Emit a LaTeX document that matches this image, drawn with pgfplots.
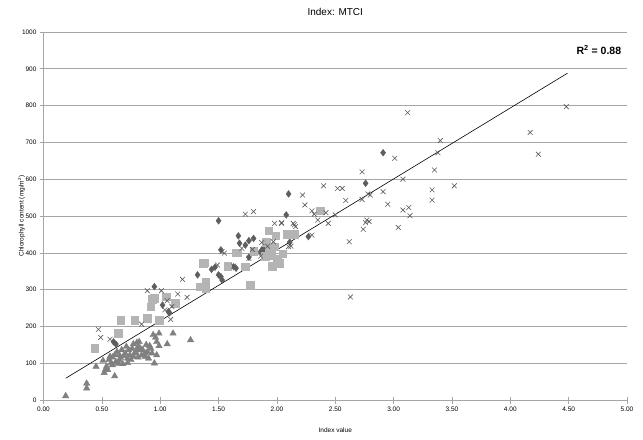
\documentclass[border=0pt]{standalone}
\usepackage{fontspec}
\setmainfont{Liberation Sans}
\usepackage{pgfplots}
\pgfplotsset{compat=1.18}

\definecolor{diamondgray}{HTML}{5E5E5E}
\definecolor{squaregray}{HTML}{B4B4B4}
\definecolor{trianglegray}{HTML}{808080}
\definecolor{crossgray}{HTML}{5A5A5A}
\definecolor{gridgray}{HTML}{A6A6A6}

\begin{document}
\begin{tikzpicture}
\begin{axis}[
  name=main,
  scale only axis,
  width=583.5pt, height=368pt,
  xmin=0, xmax=5, ymin=0, ymax=1000,
  xtick={0,0.5,...,5}, ytick={0,100,...,1000},
  axis x line*=bottom, axis y line*=left,
  axis line style={gridgray, line width=0.6pt},
  ymajorgrids, grid style={gridgray, line width=0.6pt},
  tick align=center, major tick length=7pt,
  tick style={gridgray, line width=0.6pt},
  tick label style={font=\fontsize{6.5}{7}\selectfont},
  x tick label style={/pgf/number format/.cd, fixed, fixed zerofill, precision=2},
  y tick label style={/pgf/number format/.cd, fixed, 1000 sep={}},
  /pgf/number format/assume math mode=true,
  title={Index: MTCI},
  title style={font=\fontsize{10}{12}\selectfont, at={(axis description cs:0.5,1)}, yshift=14pt, anchor=center},
  xlabel={Index value},
  ylabel={Chlorophyll content (mg/m\textsuperscript{2})},
  every axis x label/.style={at={(axis description cs:0.5,0)}, yshift=-30pt, anchor=center, font=\fontsize{6.5}{8}\selectfont},
  every axis y label/.style={at={(axis description cs:0,0.5)}, xshift=-22pt, rotate=90, anchor=center, font=\fontsize{6.5}{8}\selectfont},
  clip=false,
]
% triangles
\addplot[only marks, mark=triangle*, mark size=3.7pt, color=trianglegray] table {
x y
0.19 11
0.37 45
0.37 32
0.45 91
0.51 107
0.52 74
0.55 82
0.61 65
0.56 109
0.65 122
0.68 98
0.72 113
0.75 109
0.78 127
0.81 145
0.82 158
0.80 136
0.84 122
0.87 118
0.89 131
0.91 147
0.94 177
0.95 100
0.97 158
0.99 181
0.99 147
1.06 152
1.11 181
1.26 163
0.71 145
0.67 136
0.63 131
0.61 122
0.59 116
0.58 101
0.62 104
0.65 107
0.70 127
0.73 136
0.76 140
0.77 152
0.80 156
0.85 136
0.87 127
0.90 113
0.93 127
0.97 122
0.59 95
0.54 91
0.53 82
0.74 122
0.77 118
0.81 116
0.72 101
0.57 118
0.66 115
0.69 120
0.79 130
0.83 140
0.92 140
0.64 99
0.96 170
0.88 150
};
% diamonds
\addplot[only marks, mark=diamond*, mark size=3.4pt, color=diamondgray] table {
x y
0.60 158
0.62 152
0.95 308
1.02 258
1.07 240
1.08 237
1.32 340
1.44 355
1.47 361
1.50 340
1.52 335
1.53 326
1.50 487
1.67 446
1.68 426
1.76 433
1.80 439
1.73 421
1.88 412
1.86 403
1.89 408
1.52 408
1.76 388
1.63 362
1.65 358
2.10 560
2.08 503
2.27 444
2.76 589
2.91 672
2.11 429
};
% squares
\addplot[only marks, mark=square*, mark size=3.8pt, color=squaregray] table {
x y
0.44 140
0.64 181
0.66 217
0.78 217
0.89 222
0.92 254
0.95 276
0.93 274
1.05 281
1.13 263
0.99 217
1.37 371
1.39 321
1.34 308
1.39 303
1.38 373
1.65 400
1.58 364
1.93 460
1.99 446
2.09 451
2.15 451
1.91 428
1.98 417
1.66 400
1.93 406
1.95 394
1.73 362
1.96 364
2.02 371
2.00 382
2.05 398
1.77 312
2.37 514
1.80 404
1.90 390
};
% crosses
\addplot[only marks, mark=x, mark size=3.4pt, color=crossgray, mark options={line width=0.6pt}] table {
x y
0.47 192
0.49 170
0.57 165
0.84 206
0.89 297
1.01 297
1.06 270
1.10 254
1.09 219
1.19 328
1.23 279
1.04 245
1.15 288
1.49 367
1.55 399
1.63 364
1.73 505
1.80 512
1.98 480
2.04 480
2.15 476
1.87 428
1.97 430
1.70 412
1.79 409
1.92 418
2.12 418
1.53 403
1.76 385
1.86 391
2.73 620
2.40 582
2.52 575
2.56 575
2.22 557
2.78 560
2.73 545
2.59 542
2.24 530
2.30 514
2.32 505
2.42 509
2.50 503
2.35 489
2.04 482
2.14 480
2.16 471
2.44 480
2.77 489
2.76 482
2.74 464
2.30 448
2.62 430
2.10 417
3.12 781
3.40 705
3.38 672
3.01 657
3.35 625
3.08 600
2.80 557
2.91 566
3.33 571
3.33 543
3.52 582
2.95 532
3.08 516
3.13 523
3.14 501
2.79 485
3.04 469
4.48 797
4.17 727
4.24 668
2.63 280
};
% linear trend line
\addplot[black, line width=0.6pt] coordinates {(0.19,59) (4.49,888)};
\node[anchor=east, font=\fontsize{10.5}{12}\selectfont\bfseries] at (axis cs:4.98,951) {R\textsuperscript{2} = 0.88};
\end{axis}
\pgfresetboundingbox
\path ([xshift=-43.5pt,yshift=-39pt]main.south west) rectangle ([xshift=16pt,yshift=32pt]main.north east);
\end{tikzpicture}
\end{document}
